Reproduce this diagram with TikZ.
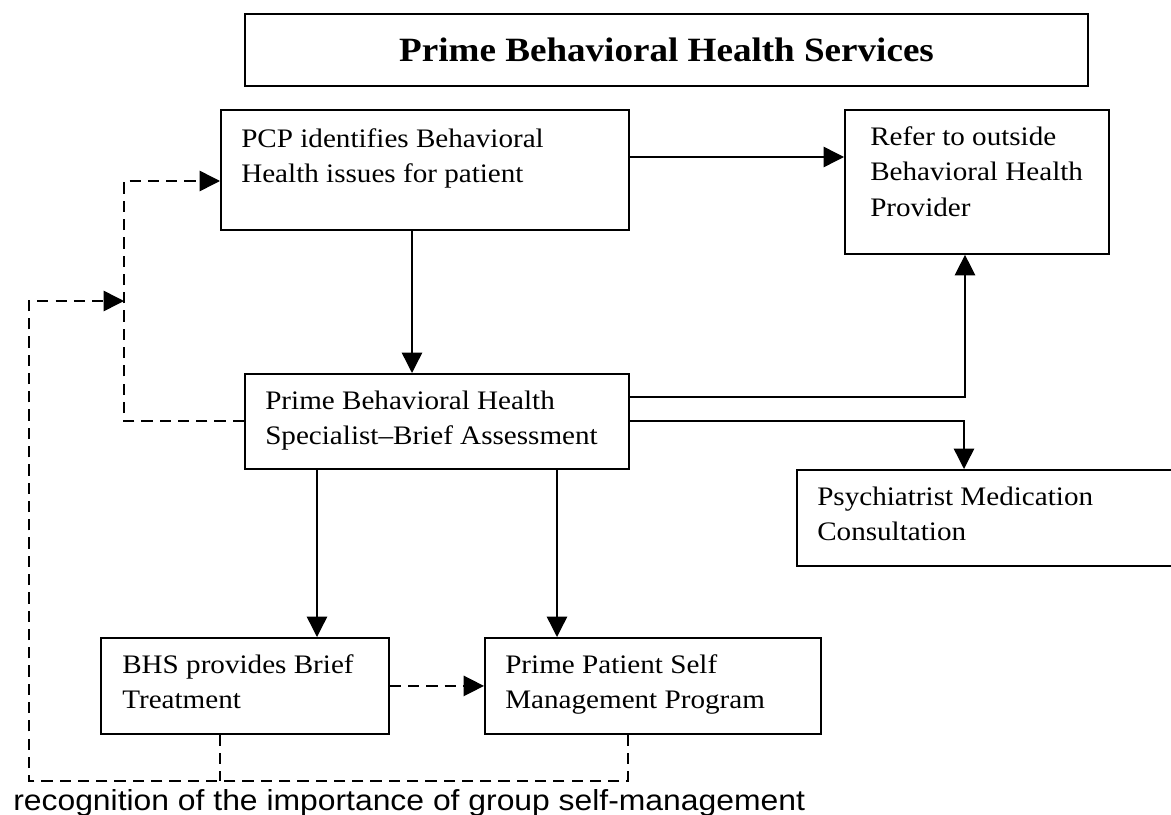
\documentclass[tikz,border=0pt]{standalone}
\usepackage{fontspec}
\setmainfont{Liberation Serif}[FakeStretch=1.09]
\setsansfont{Liberation Sans}[FakeStretch=1.10]
\usetikzlibrary{positioning, arrows.meta}

\tikzset{
  box/.style={draw, line width=1.3pt, rectangle, anchor=north west, inner sep=0pt},
  txt/.style={anchor=north west, inner sep=0pt, align=left, font=\fontsize{19}{25}\selectfont},
  arr/.style={line width=1pt, -{Triangle[length=14.5pt, width=14.5pt]}},
  dasharr/.style={arr, line width=1.1pt, dash pattern=on 8pt off 5pt},
  dashln/.style={line width=1.1pt, dash pattern=on 8pt off 5pt}
}

\begin{document}
\begin{tikzpicture}[x=0.025cm, y=-0.025cm]
        \useasboundingbox (0,0) rectangle (1171,815);
        \clip (0,0) rectangle (1171,815);

        \node[box, minimum width=21.075cm, minimum height=1.8cm, font=\fontsize{24.2}{29}\selectfont\bfseries] (title) at (244,13) {Prime Behavioral Health Services};

        \node[box, minimum width=10.2cm, minimum height=3cm] (pcp) at (220,109) {};
        \node[txt, below right=0.48cm and 0.525cm of pcp.north west] (pcp-t) {PCP identifies Behavioral\\Health issues for patient};

        \node[box, minimum width=6.6cm, minimum height=3.6cm] (refer) at (844,109) {};
        \node[txt, below right=0.44cm and 0.65cm of refer.north west] (refer-t) {Refer to outside\\Behavioral Health\\Provider};

        \node[box, minimum width=9.6cm, minimum height=2.375cm] (bhs) at (244,373) {};
        \node[txt, below right=0.44cm and 0.525cm of bhs.north west] (bhs-t) {Prime Behavioral Health\\Specialist--Brief Assessment};

        \node[box, minimum width=10.1cm, minimum height=2.4cm] (psych) at (796,469) {};
        \node[txt, below right=0.44cm and 0.525cm of psych.north west] (psych-t) {Psychiatrist Medication\\Consultation};

        \node[box, minimum width=7.2cm, minimum height=2.4cm] (brief) at (100,637) {};
        \node[txt, below right=0.44cm and 0.55cm of brief.north west] (brief-t) {BHS provides Brief\\Treatment};

        \node[box, minimum width=8.4cm, minimum height=2.4cm] (pspm) at (484,637) {};
        \node[txt, below right=0.44cm and 0.525cm of pspm.north west] (pspm-t) {Prime Patient Self\\Management Program};

        % solid flow
        \draw[arr] (pcp.east |- 0,157) -- (refer.west |- 0,157);
        \draw[arr] (pcp.south -| 412,0) -- (bhs.north -| 412,0);
        \draw[arr] (bhs.east |- 0,397) -| (refer.south -| 965,0);
        \draw[arr] (bhs.east |- 0,421) -| (psych.north -| 964,0);
        \draw[arr] (bhs.south -| 317,0) -- (brief.north -| 317,0);
        \draw[arr] (bhs.south -| 557,0) -- (pspm.north -| 557,0);

        % feedback loops
        \coordinate (rail) at (124,301);
        \draw[dasharr] (brief.east) -- (pspm.west);
        \draw[dasharr] (bhs.west |- 0,421) -| (rail) |- (pcp.west |- 0,181);
        \draw[dashln] (brief.south -| 220,0) -- (220,781);
        \draw[dasharr] (pspm.south -| 628,0) |- (29,781) |- (rail);

        \node[anchor=base west, inner sep=0pt, font=\sffamily\fontsize{20.6}{24}\selectfont] (note) at (13,810) {recognition of the importance of group self-management};
\end{tikzpicture}
\end{document}
